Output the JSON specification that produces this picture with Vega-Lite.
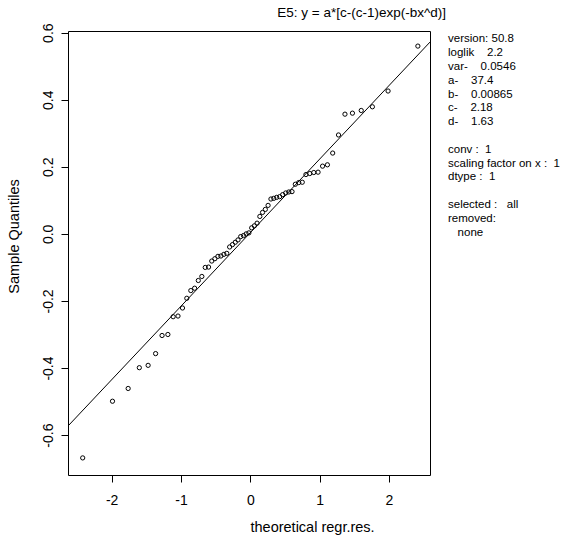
{
  "$schema": "https://vega.github.io/schema/vega-lite/v6.json",
  "width": 362,
  "height": 444,
  "autosize": {"type": "none"},
  "padding": {"left": 68, "top": 31, "right": 140, "bottom": 67},
  "background": "white",
  "config": {
    "font": "Liberation Sans",
    "view": {"stroke": "black", "strokeWidth": 1},
    "axis": {"grid": false, "domain": false, "tickColor": "black", "tickSize": 7, "labelColor": "black", "titleColor": "black", "labelFont": "Liberation Sans", "titleFont": "Liberation Sans", "labelFontSize": 14, "titleFontSize": 14.5, "titleFontWeight": "normal"}
  },
  "title": {"text": "E5: y = a*[c-(c-1)exp(-bx^d)]", "anchor": "end", "frame": "group", "dx": 16, "fontSize": 13.5, "fontWeight": "normal", "font": "Liberation Sans", "color": "black", "offset": 3},
  "datasets": {
    "pts": [
      {"theo": -2.418, "sample": -0.668}, {"theo": -1.988, "sample": -0.499}, {"theo": -1.762, "sample": -0.461}, {"theo": -1.601, "sample": -0.399},
      {"theo": -1.474, "sample": -0.392}, {"theo": -1.366, "sample": -0.357}, {"theo": -1.273, "sample": -0.303}, {"theo": -1.189, "sample": -0.300},
      {"theo": -1.113, "sample": -0.247}, {"theo": -1.043, "sample": -0.245}, {"theo": -0.978, "sample": -0.221}, {"theo": -0.916, "sample": -0.192},
      {"theo": -0.858, "sample": -0.169}, {"theo": -0.803, "sample": -0.162}, {"theo": -0.750, "sample": -0.139}, {"theo": -0.699, "sample": -0.127},
      {"theo": -0.650, "sample": -0.100}, {"theo": -0.602, "sample": -0.099}, {"theo": -0.556, "sample": -0.081}, {"theo": -0.511, "sample": -0.074},
      {"theo": -0.467, "sample": -0.067}, {"theo": -0.424, "sample": -0.066}, {"theo": -0.381, "sample": -0.061}, {"theo": -0.339, "sample": -0.058},
      {"theo": -0.298, "sample": -0.039}, {"theo": -0.257, "sample": -0.032}, {"theo": -0.217, "sample": -0.025}, {"theo": -0.177, "sample": -0.018},
      {"theo": -0.138, "sample": -0.008}, {"theo": -0.098, "sample": -0.005}, {"theo": -0.059, "sample": 0.000}, {"theo": -0.020, "sample": 0.003},
      {"theo": 0.020, "sample": 0.018}, {"theo": 0.059, "sample": 0.024}, {"theo": 0.098, "sample": 0.032}, {"theo": 0.138, "sample": 0.052},
      {"theo": 0.177, "sample": 0.064}, {"theo": 0.217, "sample": 0.073}, {"theo": 0.257, "sample": 0.085}, {"theo": 0.298, "sample": 0.104},
      {"theo": 0.339, "sample": 0.106}, {"theo": 0.381, "sample": 0.109}, {"theo": 0.424, "sample": 0.111}, {"theo": 0.467, "sample": 0.117},
      {"theo": 0.511, "sample": 0.122}, {"theo": 0.556, "sample": 0.125}, {"theo": 0.602, "sample": 0.126}, {"theo": 0.650, "sample": 0.148},
      {"theo": 0.699, "sample": 0.153}, {"theo": 0.750, "sample": 0.154}, {"theo": 0.803, "sample": 0.177}, {"theo": 0.858, "sample": 0.180},
      {"theo": 0.916, "sample": 0.183}, {"theo": 0.978, "sample": 0.184}, {"theo": 1.043, "sample": 0.202}, {"theo": 1.113, "sample": 0.206},
      {"theo": 1.189, "sample": 0.241}, {"theo": 1.273, "sample": 0.295}, {"theo": 1.366, "sample": 0.357}, {"theo": 1.474, "sample": 0.360},
      {"theo": 1.601, "sample": 0.368}, {"theo": 1.762, "sample": 0.379}, {"theo": 1.988, "sample": 0.426}, {"theo": 2.418, "sample": 0.560}
    ],
    "fit": [
      {"theo": -2.63, "sample": -0.573},
      {"theo": 2.593, "sample": 0.572}
    ],
    "info": [{"label": "fit summary"}]
  },
  "layer": [
    {
      "data": {"name": "pts"},
      "mark": {"type": "point", "shape": "circle", "filled": false, "color": "black", "size": 18, "strokeWidth": 1, "opacity": 1},
      "encoding": {
        "x": {"field": "theo", "type": "quantitative", "scale": {"domain": [-2.63, 2.593], "nice": false, "zero": false},
              "axis": {"values": [-2, -1, 0, 1, 2], "format": ".0f", "labelExpr": "replace(datum.label, '\u2212', '-')", "title": "theoretical regr.res.", "labelPadding": 11, "titleX": 182, "titleY": 52, "titleAlign": "left", "titleBaseline": "middle"}},
        "y": {"field": "sample", "type": "quantitative", "scale": {"domain": [-0.719, 0.605], "nice": false, "zero": false},
              "axis": {"values": [-0.6, -0.4, -0.2, 0, 0.2, 0.4, 0.6], "format": ".1f", "labelExpr": "replace(datum.label, '\u2212', '-')", "labelAngle": 270, "labelAlign": "center", "labelBaseline": "bottom", "labelPadding": 6, "title": "Sample Quantiles", "titleX": -54, "titleY": 205, "titleAngle": 270, "titleAlign": "center", "titleBaseline": "middle"}}
      }
    },
    {
      "data": {"name": "fit"},
      "mark": {"type": "line", "color": "black", "strokeWidth": 1, "clip": true},
      "encoding": {
        "x": {"field": "theo", "type": "quantitative"},
        "y": {"field": "sample", "type": "quantitative"}
      }
    },
    {
      "data": {"name": "info"},
      "mark": {"type": "text", "align": "left", "baseline": "top", "font": "Liberation Sans", "fontSize": 11.5, "lineHeight": 13.8, "color": "black",
               "text": ["version: 50.8", "loglik\u00a0\u00a0\u00a0\u00a02.2", "var-\u00a0\u00a0\u00a0\u00a00.0546", "a-\u00a0\u00a0\u00a0\u00a037.4", "b-\u00a0\u00a0\u00a0\u00a00.00865", "c-\u00a0\u00a0\u00a0\u00a02.18", "d-\u00a0\u00a0\u00a0\u00a01.63"]},
      "encoding": {
        "x": {"datum": 2.853, "type": "quantitative"},
        "y": {"datum": 0.598, "type": "quantitative"}
      }
    },
    {
      "data": {"name": "info"},
      "mark": {"type": "text", "align": "left", "baseline": "top", "font": "Liberation Sans", "fontSize": 11.5, "lineHeight": 13.8, "color": "black",
               "text": ["conv\u00a0:\u00a0\u00a01", "scaling factor on x\u00a0:\u00a0\u00a01", "dtype\u00a0:\u00a0\u00a01"]},
      "encoding": {
        "x": {"datum": 2.853, "type": "quantitative"},
        "y": {"datum": 0.2688, "type": "quantitative"}
      }
    },
    {
      "data": {"name": "info"},
      "mark": {"type": "text", "align": "left", "baseline": "top", "font": "Liberation Sans", "fontSize": 11.5, "lineHeight": 13.8, "color": "black",
               "text": ["selected\u00a0:\u00a0\u00a0\u00a0all", "removed:", "\u200b\u00a0\u00a0\u00a0none"]},
      "encoding": {
        "x": {"datum": 2.853, "type": "quantitative"},
        "y": {"datum": 0.1042, "type": "quantitative"}
      }
    }
  ]
}
